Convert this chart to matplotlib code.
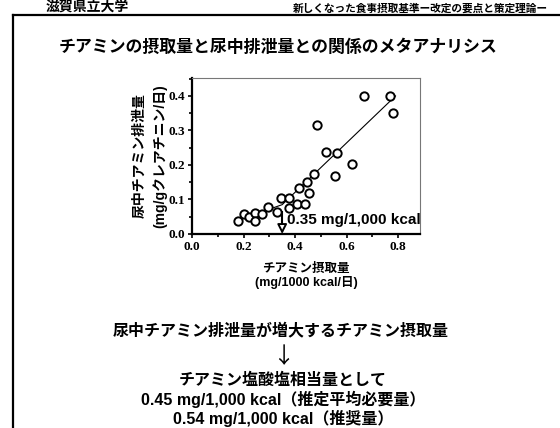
import matplotlib.pyplot as plt
from matplotlib.ticker import MultipleLocator

# data
intake = [0.18, 0.20, 0.22, 0.245, 0.245, 0.27, 0.295, 0.33,
          0.345, 0.376, 0.376, 0.408, 0.417, 0.44, 0.447, 0.455,
          0.474, 0.484, 0.522, 0.561, 0.554, 0.621, 0.668, 0.767, 0.78]
excretion = [0.037, 0.057, 0.050, 0.060, 0.038, 0.058, 0.078, 0.063,
             0.105, 0.075, 0.105, 0.088, 0.132, 0.088, 0.150, 0.120,
             0.174, 0.317, 0.239, 0.236, 0.168, 0.204, 0.400, 0.400, 0.350]
# segmented regression line (break at 0.35)
fit_x = [0.18, 0.35, 0.79]
fit_y = [0.04, 0.085, 0.40]
break_x = 0.35

W, H = 560, 428
jp = ['Liberation Sans', 'Noto Sans CJK JP', 'DejaVu Sans']

fig = plt.figure(figsize=(W / 100, H / 100), dpi=100)

def ftext(x, y, s, family=jp, **kw):
    # position in pixels of the slide
    fig.text(x / W, 1 - y / H, s, family=family, ha='center', va='center', **kw)

# slide frame
fig.add_artist(plt.Line2D([13 / W, 1], [1 - 15 / H, 1 - 15 / H], color='black', lw=1.6))
fig.add_artist(plt.Line2D([13 / W, 13 / W], [0, 1 - 15 / H], color='black', lw=1.6))

ftext(87, 7, '滋賀県立大学', fontsize=10, weight='bold')
ftext(420, 9, '新しくなった食事摂取基準ー改定の要点と策定理論ー', fontsize=7.7, weight='bold')
ftext(278, 47, 'チアミンの摂取量と尿中排泄量との関係のメタアナリシス', fontsize=12.2, weight='bold')

# scatter plot
ax = fig.add_axes([192 / W, 1 - 234 / H, 228 / W, 156 / H])
ax.plot(fit_x, fit_y, color='black', lw=0.8)
ax.plot(intake, excretion, 'o', mfc='white', mec='black', ms=6, mew=1.4)
ax.vlines(break_x, 0.015, 0.068, color='black', lw=1.5, zorder=5)
ax.annotate('', xy=(break_x, 0), xytext=(break_x, 0.03),
            arrowprops=dict(arrowstyle='-|>', fc='white', ec='black', lw=1.4,
                            mutation_scale=14, shrinkA=0, shrinkB=0), zorder=6)
ax.text(0.368, 0.041, '0.35 mg/1,000 kcal', family=jp, fontsize=11, weight='bold',
        ha='left', va='center')

ax.set_xlim(0, 0.885)
ax.set_ylim(0, 0.452)
ax.xaxis.set_major_locator(MultipleLocator(0.2))
ax.xaxis.set_minor_locator(MultipleLocator(0.1))
ax.yaxis.set_major_locator(MultipleLocator(0.1))
ax.yaxis.set_minor_locator(MultipleLocator(0.05))
ax.xaxis.set_major_formatter(plt.FormatStrFormatter('%.1f'))
ax.yaxis.set_major_formatter(plt.FormatStrFormatter('%.1f'))
ax.tick_params(which='both', direction='out', length=3, width=1.2, pad=2)
ax.tick_params(which='minor', length=2)
for lab in ax.get_xticklabels() + ax.get_yticklabels():
    lab.set_family('Liberation Serif')
    lab.set_weight('bold')
    lab.set_fontsize(9.5)

for side in ['left', 'bottom']:
    ax.spines[side].set_linewidth(1.6)
for side in ['top', 'right']:
    ax.spines[side].set_linewidth(0.8)
    ax.spines[side].set_color('#777777')

ax.set_xlabel('チアミン摂取量\n(mg/1000 kcal/日)', family=jp, fontsize=9, weight='bold',
              linespacing=1.15, labelpad=7)
ax.set_ylabel('尿中チアミン排泄量\n(mg/gクレアチニン/日)', family=jp, fontsize=10,
              weight='bold', linespacing=1.5, labelpad=1)

# conclusion text
ftext(281, 330, '尿中チアミン排泄量が増大するチアミン摂取量', fontsize=11.5, weight='bold')
ftext(283, 357, '↓', family=['Noto Sans CJK JP'], fontsize=16)
ftext(283, 380, 'チアミン塩酸塩相当量として', fontsize=11.5, weight='bold')
ftext(283, 399, '0.45 mg/1,000 kcal（推定平均必要量）', fontsize=11.5, weight='bold')
ftext(283, 418, '0.54 mg/1,000 kcal（推奨量）', fontsize=11.5, weight='bold')

fig.savefig('out.png', dpi=100)
